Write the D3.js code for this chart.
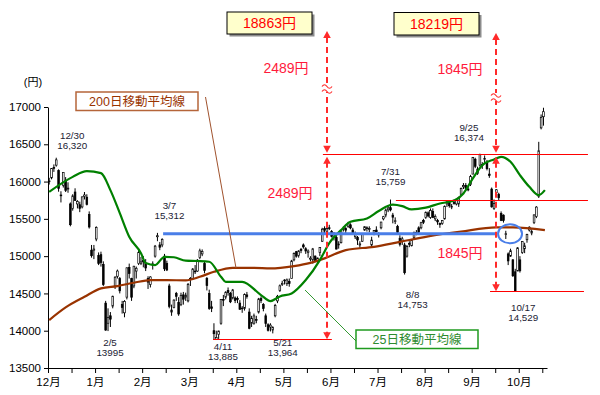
<!DOCTYPE html>
<html><head><meta charset="utf-8">
<script src="https://cdn.jsdelivr.net/npm/d3@7"></script>
<style>
body{margin:0;background:#fff}
svg{display:block}
text{font-family:"Liberation Sans",Arial,"Noto Sans CJK JP",sans-serif}
</style>
</head><body>
<svg id="c" width="600" height="395"></svg>
<script>
// ---------- data ----------
const candles = [
["12/25",16000,16050,15960,16009],["12/26",16050,16180,16030,16174],["12/27",16190,16230,16130,16178],["12/30",16220,16320,16200,16291],
["1/6",16147,16164,15864,15908],["1/7",15820,15870,15720,15814],["1/8",15950,16121,15920,16121],["1/9",16010,16060,15860,15880],
["1/10",15900,15990,15850,15912],["1/14",15700,15720,15400,15422],["1/15",15640,15830,15610,15808],["1/16",15860,15910,15740,15747],
["1/17",15700,15750,15640,15734],["1/20",15690,15730,15590,15641],["1/21",15660,15800,15640,15795],["1/22",15800,15860,15760,15820],
["1/23",15790,15830,15680,15695],["1/24",15560,15600,15370,15391],["1/27",15080,15150,14980,15006],["1/28",15080,15150,14960,15095],
["1/29",15230,15400,15200,15384],["1/30",15010,15050,14880,14900],["1/31",15020,15060,14860,14915],
["2/3",14890,14930,14600,14619],["2/4",14370,14400,14000,14008],["2/5",14100,14300,13995,14180],["2/6",14200,14250,14050,14155],
["2/7",14330,14470,14300,14462],["2/10",14600,14730,14560,14718],["2/12",14730,14820,14700,14800],["2/13",14700,14720,14500,14535],
["2/14",14350,14400,14230,14313],["2/17",14240,14410,14180,14393],["2/18",14450,14850,14420,14843],["2/19",14850,14900,14700,14766],
["2/20",14700,14710,14400,14449],["2/21",14600,14870,14570,14865],["2/24",14800,14860,14700,14837],["2/25",14900,15100,14880,15051],
["2/26",14900,14990,14880,14923],["2/27",14940,15000,14850,14924],["2/28",14900,14960,14800,14841],
["3/3",14700,14730,14560,14652],["3/4",14620,14730,14580,14721],["3/5",14880,14930,14820,14897],["3/6",15000,15150,14980,15134],
["3/7",15260,15312,15200,15274],["3/10",15150,15190,15080,15120],["3/11",15150,15240,15120,15224],["3/12",15000,15030,14800,14830],
["3/13",14900,14940,14800,14815],["3/14",14600,14630,14300,14327],["3/17",14250,14350,14200,14277],["3/18",14310,14420,14300,14411],
["3/19",14500,14520,14400,14462],["3/20",14380,14450,14200,14224],["3/24",14350,14510,14330,14475],["3/25",14480,14520,14350,14423],
["3/26",14450,14510,14400,14477],["3/27",14400,14640,14380,14622],["3/28",14700,14720,14600,14696],["3/31",14700,14840,14690,14827],
["4/1",14800,14880,14760,14791],["4/2",14800,14960,14790,14946],["4/3",14980,15100,14960,15071],["4/4",15030,15090,15000,15063],
["4/7",14900,14930,14770,14808],["4/8",14700,14720,14540,14606],["4/9",14500,14550,14280,14299],["4/10",14320,14400,14250,14300],
["4/11",14000,14100,13885,13960],["4/14",13880,14000,13885,13910],["4/15",13950,14000,13890,13996],["4/16",14100,14420,14080,14417],
["4/17",14420,14480,14330,14417],["4/18",14450,14530,14420,14516],["4/21",14540,14580,14470,14512],["4/22",14500,14520,14370,14388],
["4/23",14440,14560,14420,14546],["4/24",14440,14460,14370,14404],["4/25",14430,14460,14370,14429],["4/28",14370,14410,14280,14288],
["4/30",14300,14330,14240,14304],
["5/1",14300,14500,14270,14485],["5/2",14480,14520,14430,14457],["5/7",14250,14300,14020,14033],["5/8",14100,14200,14050,14163],
["5/9",14100,14230,14080,14199],["5/12",14150,14200,14100,14149],["5/13",14250,14440,14230,14425],["5/14",14430,14460,14370,14405],
["5/15",14350,14370,14260,14298],["5/16",14200,14230,14050,14096],["5/19",14080,14100,13990,14006],["5/20",14050,14100,13990,14075],
["5/21",14010,14060,13964,14042],["5/22",14200,14360,14180,14337],["5/23",14400,14480,14370,14462],["5/26",14540,14620,14520,14602],
["5/27",14620,14670,14600,14636],["5/28",14680,14690,14620,14670],["5/29",14630,14700,14600,14681],["5/30",14660,14700,14590,14632],
["6/2",14700,14950,14700,14935],["6/3",14950,15050,14930,15034],["6/4",15060,15070,14980,15000],["6/5",15010,15080,14980,15069],
["6/6",15090,15110,15040,15077],["6/9",15150,15170,15100,15124],["6/10",15100,15120,15030,15069],["6/11",15050,15090,14980,15068],
["6/12",14960,15000,14930,14973],["6/13",14950,15110,14900,15097],["6/16",15000,15010,14920,14933],["6/17",14940,14980,14900,14975],
["6/18",15050,15120,15000,15115],["6/19",15200,15380,15190,15361],["6/20",15370,15400,15300,15349],["6/23",15330,15400,15310,15369],
["6/24",15380,15420,15350,15376],["6/25",15330,15350,15250,15266],["6/26",15250,15320,15210,15308],["6/27",15250,15270,15090,15095],
["6/30",15160,15200,15100,15162],
["7/1",15180,15330,15170,15326],["7/2",15360,15400,15330,15369],["7/3",15370,15390,15300,15348],["7/4",15400,15460,15380,15437],
["7/7",15420,15440,15360,15379],["7/8",15350,15380,15290,15314],["7/9",15260,15330,15230,15302],["7/10",15250,15270,15150,15216],
["7/11",15150,15200,15110,15164],["7/14",15200,15310,15190,15297],["7/15",15350,15400,15340,15395],["7/16",15380,15400,15330,15379],
["7/17",15370,15400,15320,15370],["7/18",15150,15260,15130,15215],["7/22",15300,15350,15280,15343],["7/23",15350,15400,15320,15328],
["7/24",15300,15320,15250,15284],["7/25",15380,15460,15360,15457],["7/28",15500,15540,15480,15529],["7/29",15550,15640,15520,15618],
["7/30",15620,15680,15590,15646],["7/31",15650,15759,15600,15620],
["8/1",15550,15580,15440,15523],["8/4",15470,15520,15430,15474],["8/5",15400,15420,15300,15320],["8/6",15240,15280,15130,15159],
["8/7",15200,15260,15150,15232],["8/8",15150,15180,14753,14778],["8/11",15000,15150,14980,15130],["8/12",15170,15200,15120,15161],
["8/13",15140,15230,15130,15213],["8/14",15250,15330,15230,15314],["8/15",15300,15350,15280,15318],["8/18",15380,15400,15310,15322],
["8/19",15380,15460,15360,15449],["8/20",15480,15500,15430,15454],["8/21",15520,15600,15500,15586],["8/22",15580,15600,15520,15539],
["8/25",15520,15640,15500,15613],["8/26",15600,15640,15510,15521],["8/27",15500,15560,15470,15534],["8/28",15480,15500,15420,15459],
["8/29",15440,15450,15380,15424],
["9/1",15440,15480,15420,15476],["9/2",15500,15680,15490,15668],["9/3",15700,15740,15660,15728],["9/4",15720,15740,15650,15676],
["9/5",15660,15700,15630,15668],["9/8",15720,15760,15690,15705],["9/9",15700,15760,15680,15749],["9/10",15700,15800,15660,15788],
["9/11",15830,15920,15810,15909],["9/12",15930,15980,15900,15948],["9/16",15950,15980,15880,15911],["9/17",15900,15950,15870,15888],
["9/18",15960,16090,15940,16067],["9/19",16100,16330,16100,16321],["9/22",16300,16320,16180,16205],["9/24",16110,16200,16090,16167],
["9/25",16220,16374,16200,16360],["9/26",16230,16260,16170,16229],["9/29",16300,16350,16240,16310],["9/30",16250,16290,16150,16173],
["10/1",16100,16180,16050,16082],["10/2",15900,15920,15650,15661],["10/3",15640,15760,15620,15708],["10/6",15850,15900,15820,15890],
["10/7",15830,15850,15750,15783],["10/8",15570,15600,15470,15479],["10/9",15550,15560,15450,15478],["10/10",15290,15340,15230,15300],
["10/14",15030,15050,14880,14936],["10/15",15000,15100,14990,15073],["10/16",14950,14960,14720,14738],["10/17",14790,14830,14529,14532],
["10/20",14800,15120,14800,15111],["10/21",14950,15000,14780,14804],["10/22",15050,15200,15030,15195],["10/23",15100,15180,15040,15138],
["10/24",15220,15300,15180,15291],["10/27",15350,15400,15330,15388],["10/28",15310,15360,15280,15329],["10/29",15450,15560,15430,15553],
["10/30",15530,15670,15510,15658],["10/31",15800,16533,15780,16413],
["11/4",16720,16900,16700,16862],["11/5",16870,16990,16750,16937]
];
// moving averages: [trading-day index, value]
const ma25 = [[0,15862],[10,16063],[16,16140],[22,16113],[26,15885],[30,15577],[34,15260],[39,15040],[41,14907],[45,14880],
[49,14991],[53,14985],[58,14940],[63,14935],[68,14925],[73,14723],[75,14656],[82,14656],[90,14478],[94,14398],[98,14460],
[103,14500],[109,14679],[115,14947],[119,15175],[124,15349],[128,15460],[135,15505],[140,15605],[146,15690],[150,15670],
[154,15626],[160,15650],[166,15706],[172,15745],[176,15841],[180,16042],[184,16220],[189,16297],[192,16332],[196,16265],
[200,16086],[204,15929],[208,15818],[210.6,15885]];
const ma200 = [[0,14143],[7,14313],[15,14455],[22,14568],[29,14599],[36,14643],[43,14679],[50,14679],[58,14675],[64,14723],
[70,14790],[78,14843],[87,14843],[94,14835],[104,14867],[111,14910],[117,14970],[126,15081],[138,15125],[149,15192],
[161,15265],[175,15330],[190,15385],[197,15385],[210.6,15349]];
const yTicks = [13500,14000,14500,15000,15500,16000,16500,17000];
const monthLabels = ["12月","1月","2月","3月","4月","5月","6月","7月","8月","9月","10月"];
const extremes = [
 {date:"12/30",text:"16,320",value:16320},{date:"2/5",text:"13995",value:13995},{date:"3/7",text:"15,312",value:15312},
 {date:"4/11",text:"13,885",value:13885},{date:"5/21",text:"13,964",value:13964},{date:"7/31",text:"15,759",value:15759},
 {date:"8/8",text:"14,753",value:14753},{date:"9/25",text:"16,374",value:16374},{date:"10/17",text:"14,529",value:14529}];
const targets = ["18863円","18219円"];
const diffs = ["2489円","1845円"];
const maNames = ["200日移動平均線","25日移動平均線"];
const supportLevel = 15300;
const refLevels = [13885,16374,15759,14529];

// ---------- scales ----------
const svg = d3.select("#c");
const x = d3.scaleLinear().domain([-0.5, 211.5]).range([48, 547]);
const y = d3.scaleLinear().domain([13500, 17000]).range([368, 107]);
const dates = candles.map(d=>d[0]);
const idx = d => dates.indexOf(d);

// ---------- axes ----------
const yAxis = d3.axisLeft(y).tickValues(yTicks).tickSize(4).tickSizeOuter(0).tickPadding(3).tickFormat(d3.format("d"));
svg.append("g").attr("transform","translate(48,0)").call(yAxis)
  .call(g=>{g.select(".domain").attr("stroke","#000");g.selectAll(".tick line").attr("stroke","#000");
            g.selectAll("text").attr("font-size",11.5).attr("fill","#000").attr("font-family",null);});
const xTickVals = d3.range(0,22).map(k=>k*10-0.5);
const xAxis = d3.axisBottom(x).tickValues(xTickVals).tickSize(5).tickSizeOuter(0).tickPadding(5)
  .tickFormat((d,i)=> i%2===0 ? monthLabels[i/2] : "");
svg.append("g").attr("transform","translate(0,368)").call(xAxis)
  .call(g=>{g.select(".domain").attr("stroke","#000");g.selectAll(".tick line").attr("stroke","#000");
            g.selectAll("text").attr("font-size",11.5).attr("fill","#000").attr("font-family",null);});
svg.append("text").attr("x",33).attr("y",82).attr("text-anchor","middle").attr("dominant-baseline","central")
  .attr("font-size",11).text("(円)");

// ---------- candles ----------
const bw = 1.7;
const cg = svg.append("g");
cg.selectAll("line").data(candles).join("line")
  .attr("x1",(d,i)=>x(i)).attr("x2",(d,i)=>x(i)).attr("y1",d=>y(d[2])).attr("y2",d=>y(d[3]))
  .attr("stroke","#000").attr("stroke-width",1);
cg.selectAll("rect").data(candles).join("rect")
  .attr("x",(d,i)=>x(i)-bw/2).attr("width",bw)
  .attr("y",d=>y(Math.max(d[1],d[4])))
  .attr("height",d=>Math.max(0.8, y(Math.min(d[1],d[4]))-y(Math.max(d[1],d[4]))))
  .attr("fill",d=>d[4]>=d[1]?"#fff":"#000").attr("stroke","#000").attr("stroke-width",0.7);

// ---------- moving averages ----------
const ln = d3.line().x(d=>x(d[0])).y(d=>y(d[1])).curve(d3.curveMonotoneX);
svg.append("path").attr("d",ln(ma200)).attr("fill","none").attr("stroke","#993300").attr("stroke-width",2.2);
svg.append("path").attr("d",ln(ma25)).attr("fill","none").attr("stroke","#008000").attr("stroke-width",2.2);

// ---------- support line + ellipse ----------
const blue = "#4a7ee8";
svg.append("line").attr("x1",x(48.4)).attr("x2",x(190)).attr("y1",y(supportLevel)).attr("y2",y(supportLevel))
  .attr("stroke",blue).attr("stroke-width",3);
svg.append("ellipse").attr("cx",x(195.8)).attr("cy",y(supportLevel)).attr("rx",12).attr("ry",9.5)
  .attr("fill","none").attr("stroke",blue).attr("stroke-width",2);

// ---------- red reference lines ----------
const red = "#ff0000";
const refSpans = [[69.6,120.1],[116.3,228.9],[147.3,228.9],[187.3,227.2]];
refLevels.forEach((v,k)=>{
  const yy = Math.round(y(v))+0.5;
  svg.append("line").attr("x1",x(refSpans[k][0])).attr("x2",x(refSpans[k][1])).attr("y1",yy).attr("y2",yy)
    .attr("stroke",red).attr("stroke-width",1);
});

// ---------- dashed measuring arrows ----------
const dashRed = "#ff2a2a";
function arrow(xc, tipY, dir){ // dir -1 up, +1 down
  const h=7, w=3.8;
  svg.append("path").attr("d",`M${xc},${tipY}L${xc-w},${tipY-dir*h}L${xc+w},${tipY-dir*h}Z`).attr("fill",dashRed);
}
function dash(xc,y1,y2){
  svg.append("line").attr("x1",xc).attr("x2",xc).attr("y1",y1).attr("y2",y2)
    .attr("stroke",dashRed).attr("stroke-width",2).attr("stroke-dasharray","6,4");
}
function brk(xc,yc){
  svg.append("rect").attr("x",xc-6).attr("y",yc-4).attr("width",12).attr("height",8).attr("fill","#fff");
  [-2.5,2.5].forEach(o=>{
    svg.append("path").attr("d",`M${xc-5},${yc+o+1}q2.5,-3.5 5,0t5,0`).attr("fill","none")
      .attr("stroke",dashRed).attr("stroke-width",1.2);
  });
}
[[118,31,88,refLevels[1],refLevels[0]],[190,33,97,refLevels[1],refLevels[3]]].forEach(([i,top,bk,hi,lo])=>{
  const xc = Math.round(x(i));
  const yHi = y(hi), yLo = y(lo);
  dash(xc, top+6, yHi-6);
  arrow(xc, top, -1);
  arrow(xc, yHi-1, 1);
  brk(xc, bk);
  dash(xc, yHi+8, yLo-6);
  arrow(xc, yHi+3, -1);
  arrow(xc, yLo, 1);
});

// ---------- target boxes ----------
const boxes = [{x:227,y:12,w:85,h:22},{x:394,y:12.5,w:85,h:22.5}];
targets.forEach((t,k)=>{
  const b=boxes[k];
  svg.append("rect").attr("x",b.x+2.5).attr("y",b.y+2.5).attr("width",b.w).attr("height",b.h).attr("fill","#8c8c8c");
  svg.append("rect").attr("x",b.x).attr("y",b.y).attr("width",b.w).attr("height",b.h)
    .attr("fill","#ffffcc").attr("stroke","#000").attr("stroke-width",1);
  svg.append("text").attr("x",b.x+b.w/2).attr("y",b.y+b.h/2).attr("text-anchor","middle").attr("dominant-baseline","central")
    .attr("font-size",14).attr("fill",red).text(t);
});
// difference labels
const diffPos = [[[286,68],[290,193]],[[460,69],[460,253]]];
diffs.forEach((t,k)=>{
  diffPos[k].forEach(p=>{
    svg.append("text").attr("x",p[0]).attr("y",p[1]).attr("text-anchor","middle").attr("dominant-baseline","central")
      .attr("font-size",14).attr("fill","#ff1a3c").text(t);
  });
});

// ---------- MA name boxes ----------
svg.append("line").attr("x1",205.5).attr("y1",97).attr("x2",236).attr("y2",268).attr("stroke","#a0522d").attr("stroke-width",1);
svg.append("rect").attr("x",76).attr("y",92).attr("width",122).attr("height",18.5)
  .attr("fill","#fff").attr("stroke","#b5653a").attr("stroke-width",1.5);
svg.append("text").attr("x",137).attr("y",101.5).attr("text-anchor","middle").attr("dominant-baseline","central")
  .attr("font-size",12.5).attr("fill","#993300").attr("font-family","Noto Sans CJK JP").text(maNames[0]);
svg.append("line").attr("x1",305).attr("y1",290).attr("x2",356).attr("y2",341).attr("stroke","#339933").attr("stroke-width",1);
svg.append("rect").attr("x",356).attr("y",330).attr("width",122).attr("height",18.5)
  .attr("fill","#fff").attr("stroke","#1f9a1f").attr("stroke-width",1.5);
svg.append("text").attr("x",417).attr("y",339.5).attr("text-anchor","middle").attr("dominant-baseline","central")
  .attr("font-size",12.5).attr("fill","#2e8b2e").attr("font-family","Noto Sans CJK JP").text(maNames[1]);

// ---------- extreme labels ----------
const offs = {"12/30":[16,-22],"2/5":[2,12],"3/7":[12,-27],"4/11":[9,8],"5/21":[10,10],"7/31":[0,-28],"8/8":[8,20],"9/25":[-11,-26],"10/17":[8,17]};
extremes.forEach(e=>{
  const i = idx(e.date), o = offs[e.date];
  const tx = x(i)+o[0], ty = y(e.value)+o[1];
  [e.date, e.text].forEach((s,k)=>{
    svg.append("text").attr("x",tx).attr("y",ty-0.5+k*10).attr("text-anchor","middle").attr("dominant-baseline","central")
      .attr("font-size",9.8).attr("fill","#1a1a33").text(s);
  });
});
</script>
</body></html>
